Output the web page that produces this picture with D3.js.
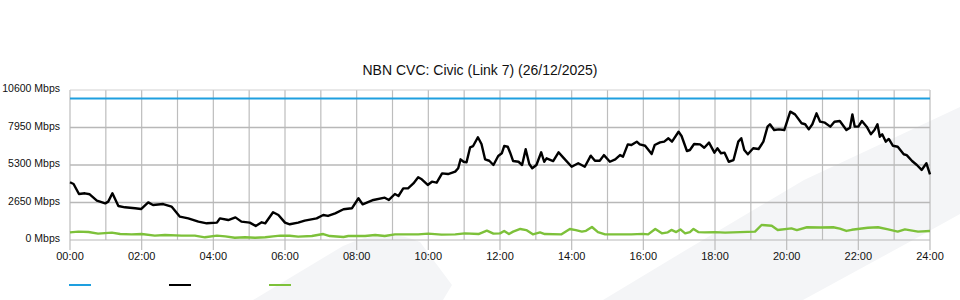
<!DOCTYPE html>
<html>
<head>
<meta charset="utf-8">
<script src="https://cdn.jsdelivr.net/npm/d3@7"></script>
<style>
  html, body { margin: 0; padding: 0; background: #fff; }
  svg { display: block; font-family: "Liberation Sans", Arial, sans-serif; }
</style>
</head>
<body>
<div id="viz"></div>
<script>
var title = "NBN CVC: Civic (Link 7) (26/12/2025)";

// y ticks (Mbps) and x ticks (hours)
var yTicks = [0, 2650, 5300, 7950, 10600];
var xTicks = [0, 2, 4, 6, 8, 10, 12, 14, 16, 18, 20, 22, 24];

// capacity line
var capTimes = [0, 1440];
var capValues = [10000, 10000];

// black series: minutes since midnight / Mbps
var blackTimes = [0, 6, 15, 25, 33, 45, 59, 64, 71, 81, 92, 109, 119, 131, 139, 156, 170, 184, 198, 215,
  229, 246, 251, 265, 277, 287, 301, 311, 321, 327, 340, 349, 360, 368, 382, 393, 413, 424, 432, 444,
  458, 472, 483, 490, 508, 527, 534, 544, 550, 558, 566, 575, 583, 589, 599, 606, 614, 623, 633, 645,
  650, 654, 659, 664, 670, 675, 683, 689, 695, 702, 709, 717, 723, 727, 733, 737, 742, 751, 757, 763,
  769, 774, 781, 789, 794, 798, 809, 818, 826, 840, 851, 862, 872, 879, 887, 894, 904, 913, 921, 926,
  934, 940, 949, 954, 963, 974, 979, 988, 995, 1002, 1008, 1019, 1024, 1033, 1038, 1045, 1055, 1062, 1070, 1079,
  1084, 1090, 1096, 1103, 1111, 1119, 1124, 1129, 1135, 1144, 1153, 1161, 1168, 1172, 1179, 1187, 1196, 1206, 1214, 1225,
  1231, 1237, 1243, 1250, 1256, 1264, 1273, 1280, 1289, 1300, 1306, 1310, 1314, 1320, 1326, 1334, 1341, 1347, 1352, 1356,
  1360, 1366, 1371, 1378, 1386, 1396, 1401, 1410, 1418, 1426, 1434, 1440];
var blackValues = [4080, 3960, 3250, 3300, 3230, 2780, 2590, 2710, 3300, 2400, 2310, 2240, 2190, 2660, 2470, 2540, 2360, 1650, 1530, 1300,
  1180, 1230, 1530, 1410, 1600, 1300, 1230, 990, 1250, 1180, 1960, 1770, 1230, 1110, 1230, 1370, 1530, 1770, 1700, 1880,
  2170, 2240, 2950, 2520, 2830, 2990, 2830, 3250, 3110, 3650, 3650, 4000, 4430, 4290, 3890, 4120, 4050, 4710, 4660, 4830,
  5070, 5700, 5530, 5490, 6550, 6640, 7260, 6780, 5700, 5600, 5300, 5940, 6130, 6640, 6590, 6170, 5580, 5530, 5300, 6410,
  5370, 5070, 5300, 6200, 5530, 5770, 5580, 6200, 5820, 5180, 5420, 5180, 5960, 5600, 5600, 6000, 5530, 5700, 6000, 5890,
  6760, 6710, 6950, 6760, 6660, 6080, 6710, 6900, 6950, 7190, 6950, 7650, 7350, 6290, 6360, 6780, 6760, 6520, 6880, 6170,
  6480, 6130, 6170, 5530, 5650, 6950, 7190, 6360, 6060, 6480, 6430, 6950, 8010, 8180, 7770, 7820, 7770, 9070, 8880, 8250,
  8180, 7820, 8180, 8950, 8360, 8290, 8010, 8360, 8410, 7770, 7940, 8880, 8010, 8010, 8410, 8010, 7470, 7770, 8180, 7300,
  7470, 6950, 7140, 6660, 6590, 6060, 6000, 5580, 5300, 4950, 5420, 4640];

// green series: minutes since midnight / Mbps
var greenTimes = [0, 14, 31, 47, 70, 84, 103, 120, 142, 159, 187, 209, 226, 246, 260, 276, 293, 310, 327, 340,
  352, 368, 382, 405, 424, 435, 458, 466, 494, 511, 527, 544, 561, 583, 600, 622, 645, 661, 684, 698,
  709, 720, 727, 735, 742, 754, 764, 775, 787, 795, 823, 837, 847, 857, 864, 874, 884, 896, 940, 959,
  968, 980, 991, 1001, 1007, 1015, 1022, 1030, 1038, 1044, 1052, 1063, 1080, 1097, 1122, 1147, 1158, 1175, 1185, 1208,
  1217, 1234, 1256, 1278, 1289, 1300, 1309, 1336, 1353, 1370, 1386, 1398, 1420, 1440];
var greenValues = [540, 590, 565, 450, 520, 420, 400, 420, 310, 350, 310, 310, 190, 310, 260, 160, 190, 160, 190, 260,
  310, 300, 235, 280, 420, 280, 210, 280, 280, 350, 280, 400, 400, 400, 450, 380, 400, 470, 420, 660,
  450, 470, 640, 420, 590, 780, 700, 400, 540, 420, 400, 780, 700, 590, 650, 920, 560, 400, 400, 430,
  400, 780, 470, 540, 710, 560, 750, 470, 560, 780, 560, 540, 560, 520, 560, 590, 1060, 1010, 710, 820,
  700, 900, 880, 900, 800, 640, 720, 870, 900, 750, 590, 750, 590, 640];

var legendColors = ["#1e9fdf", "#000000", "#7dc13a"];

var width = 960, height = 300,
    plotLeft = 70, plotRight = 930, plotTop = 90, plotBottom = 240;

var svg = d3.select("#viz").append("svg")
  .attr("width", width)
  .attr("height", height);

var x = d3.scaleLinear().domain([0, 1440]).range([plotLeft, plotRight]);
var y = d3.scaleLinear().domain([0, 10600]).range([plotBottom, plotTop]);

// watermark shapes
svg.append("path")
  .attr("d", "M603,300 L686,250 L804,180 L960,107 L960,214 L913,240 L803,300 Z")
  .attr("fill", "#f4f5f7");
svg.append("path")
  .attr("d", "M253,300 L343,246 Q385,226 420,242 L452,285 L443,300 Z")
  .attr("fill", "#f4f5f7");

// vertical grid every hour
svg.append("g").selectAll("line")
  .data(d3.range(0, 25))
  .enter().append("line")
    .attr("x1", function(d) { return x(d * 60); })
    .attr("x2", function(d) { return x(d * 60); })
    .attr("y1", plotTop)
    .attr("y2", function(d) { return d % 2 === 0 ? plotBottom + 10 : plotBottom; })
    .attr("stroke", "#bdbdbd")
    .attr("stroke-width", 1.2);

// horizontal grid
svg.append("g").selectAll("line")
  .data(yTicks)
  .enter().append("line")
    .attr("x1", plotLeft)
    .attr("x2", plotRight)
    .attr("y1", function(d) { return y(d); })
    .attr("y2", function(d) { return y(d); })
    .attr("stroke", function(d) { return d === 10600 ? "#d0d0d0" : "#b8b8b8"; })
    .attr("stroke-width", function(d) { return d === 10600 || d === 0 ? 1 : 1.5; });

// y labels
svg.append("g").selectAll("text")
  .data(yTicks)
  .enter().append("text")
    .attr("x", 60)
    .attr("y", function(d) { return y(d) + 2; })
    .attr("text-anchor", "end")
    .attr("font-size", 10.5)
    .attr("fill", "#111")
    .text(function(d) { return d + " Mbps"; });

// x labels
svg.append("g").selectAll("text")
  .data(xTicks)
  .enter().append("text")
    .attr("x", function(d) { return x(d * 60); })
    .attr("y", 260)
    .attr("text-anchor", "middle")
    .attr("font-size", 11)
    .attr("fill", "#111")
    .text(function(d) { return (d < 10 ? "0" : "") + d + ":00"; });

// title
svg.append("text")
  .attr("x", 480)
  .attr("y", 75)
  .attr("text-anchor", "middle")
  .attr("font-size", 14)
  .attr("fill", "#111")
  .text(title);

var line = d3.line()
  .x(function(d) { return x(d[0]); })
  .y(function(d) { return y(d[1]); });

function pairs(t, v) {
  return t.map(function(d, i) { return [d, v[i]]; });
}

svg.append("path")
  .datum(pairs(capTimes, capValues))
  .attr("d", line)
  .attr("fill", "none")
  .attr("stroke", legendColors[0])
  .attr("stroke-width", 2);

svg.append("path")
  .datum(pairs(greenTimes, greenValues))
  .attr("d", line)
  .attr("fill", "none")
  .attr("stroke", legendColors[2])
  .attr("stroke-width", 2.4)
  .attr("stroke-linejoin", "round");

svg.append("path")
  .datum(pairs(blackTimes, blackValues))
  .attr("d", line)
  .attr("fill", "none")
  .attr("stroke", legendColors[1])
  .attr("stroke-width", 2.4)
  .attr("stroke-linejoin", "round");

// legend swatches (no text)
svg.append("g").selectAll("line")
  .data(legendColors)
  .enter().append("line")
    .attr("x1", function(d, i) { return 69 + i * 100; })
    .attr("x2", function(d, i) { return 91 + i * 100; })
    .attr("y1", 285)
    .attr("y2", 285)
    .attr("stroke", function(d) { return d; })
    .attr("stroke-width", 2);
</script>
</body>
</html>
